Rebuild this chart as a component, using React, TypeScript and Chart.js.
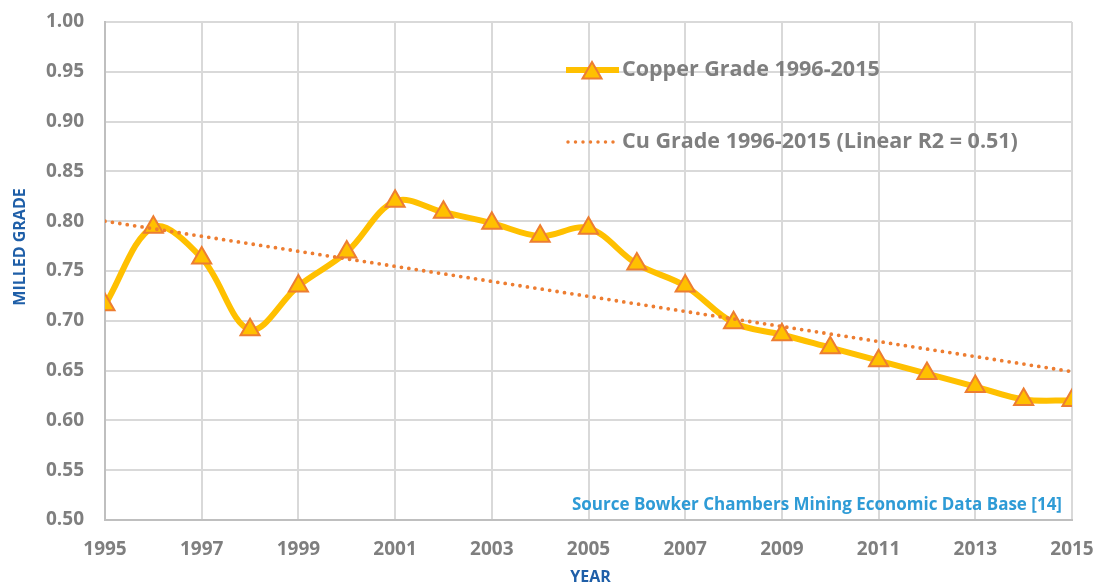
import React, { useEffect, useRef } from "react";
import { Chart, registerables } from "chart.js";

Chart.register(...registerables);

const years = [1995, 1996, 1997, 1998, 1999, 2000, 2001, 2002, 2003, 2004, 2005, 2006, 2007, 2008, 2009, 2010, 2011, 2012, 2013, 2014, 2015];
const grade = [0.716, 0.794, 0.763, 0.691, 0.735, 0.769, 0.820, 0.809, 0.798, 0.785, 0.793, 0.757, 0.735, 0.698, 0.686, 0.673, 0.660, 0.647, 0.634, 0.621, 0.620];
const trendYears = [1995, 2015];
const trendValues = [0.8, 0.649];

const seriesLabel = "Copper Grade 1996-2015";
const trendLabel = "Cu Grade 1996-2015 (Linear R2 = 0.51)";
const sourceText = "Source Bowker Chambers Mining Economic Data Base [14]";
const xTitle = "YEAR";
const yTitle = "MILLED GRADE";

const YELLOW = "#FFC000";
const ORANGE = "#ED7D31";
const GRAY = "#7F7F7F";
const FONT = "'Open Sans', sans-serif";

const textPlugin = {
  id: "customText",
  afterDraw(chart: any) {
    const ctx = chart.ctx;
    const area = chart.chartArea;
    ctx.save();
    // legend item 1
    ctx.strokeStyle = YELLOW;
    ctx.lineWidth = 6;
    ctx.lineCap = "butt";
    ctx.beginPath();
    ctx.moveTo(566, 70);
    ctx.lineTo(619, 70);
    ctx.stroke();
    ctx.fillStyle = YELLOW;
    ctx.strokeStyle = ORANGE;
    ctx.lineWidth = 2;
    const r = 11;
    const cx = 592, cy = 73;
    ctx.beginPath();
    for (let i = 0; i < 3; i++) {
      const a = (i * 2 * Math.PI) / 3;
      const px = cx + Math.sin(a) * r;
      const py = cy - Math.cos(a) * r;
      if (i === 0) ctx.moveTo(px, py); else ctx.lineTo(px, py);
    }
    ctx.closePath();
    ctx.fill();
    ctx.stroke();
    // legend item 2
    ctx.strokeStyle = ORANGE;
    ctx.lineWidth = 3.5;
    ctx.lineCap = "round";
    ctx.setLineDash([0, 7.5]);
    ctx.beginPath();
    ctx.moveTo(568, 142);
    ctx.lineTo(615, 142);
    ctx.stroke();
    ctx.setLineDash([]);
    ctx.fillStyle = GRAY;
    ctx.font = `bold 21.5px ${FONT}`;
    ctx.textAlign = "left";
    ctx.textBaseline = "middle";
    ctx.fillText(seriesLabel, 622, 70);
    ctx.fillText(trendLabel, 622, 142);
    // source
    ctx.fillStyle = "#2E9BD6";
    ctx.font = `bold 17px ${FONT}`;
    ctx.textAlign = "right";
    ctx.fillText(sourceText, 1062, 505);
    // axis titles
    ctx.fillStyle = "#1F5FA8";
    ctx.font = `bold 16px ${FONT}`;
    ctx.textAlign = "center";
    ctx.fillText(xTitle, (area.left + area.right) / 2 + 2, 577);
    ctx.translate(20, 247);
    ctx.rotate(-Math.PI / 2);
    ctx.fillText(yTitle, 0, 0);
    ctx.restore();
  },
};

export default function App() {
  const ref = useRef<HTMLCanvasElement>(null);
  useEffect(() => {
    if (!ref.current) return;
    const chart = new Chart(ref.current, {
      type: "line",
      data: {
        datasets: [
          {
            label: trendLabel,
            data: trendYears.map((x, i) => ({ x, y: trendValues[i] })),
            borderColor: ORANGE,
            borderWidth: 3.8,
            borderDash: [0, 7.5],
            borderCapStyle: "round",
            pointRadius: 0,
            fill: false,
            order: 0,
          },
          {
            label: seriesLabel,
            data: years.map((x, i) => ({ x, y: grade[i] })),
            borderColor: YELLOW,
            borderWidth: 6,
            tension: 0.35,
            pointStyle: "triangle",
            pointRadius: 11,
            pointBackgroundColor: YELLOW,
            pointBorderColor: ORANGE,
            pointBorderWidth: 2,
            fill: false,
            order: 1,
          },
        ],
      },
      options: {
        responsive: false,
        animation: false,
        layout: { padding: { top: 22, right: 29, left: 0, bottom: 0 } },
        plugins: { legend: { display: false }, tooltip: { enabled: false }, title: { display: false } },
        scales: {
          x: {
            type: "linear",
            min: 1995,
            max: 2015,
            ticks: {
              stepSize: 2,
              color: GRAY,
              font: { family: FONT, size: 19, weight: "bold" },
              padding: 18,
              maxRotation: 0,
              callback: (v: any) => String(v),
            },
            grid: { color: "#D9D9D9", lineWidth: 2, drawTicks: false },
            border: { color: "#BFBFBF", width: 2 },
            afterFit: (s: any) => { s.height = 63; s.paddingLeft = 0; s.paddingRight = 0; },
          },
          y: {
            min: 0.5,
            max: 1.0,
            ticks: {
              stepSize: 0.05,
              color: GRAY,
              font: { family: FONT, size: 19, weight: "bold" },
              padding: 21,
              callback: (v: any) => Number(v).toFixed(2),
            },
            grid: { color: "#D9D9D9", lineWidth: 2, drawTicks: false },
            border: { color: "#BFBFBF", width: 2 },
            afterFit: (s: any) => { s.width = 105; s.paddingTop = 0; s.paddingBottom = 0; },
          },
        },
      },
      plugins: [textPlugin],
    } as any);
    return () => chart.destroy();
  }, []);
  return (
    <div style={{ position: "absolute", left: 0, top: 0, width: 1101, height: 583, background: "#fff" }}>
      <canvas ref={ref} width={1101} height={583} />
    </div>
  );
}
